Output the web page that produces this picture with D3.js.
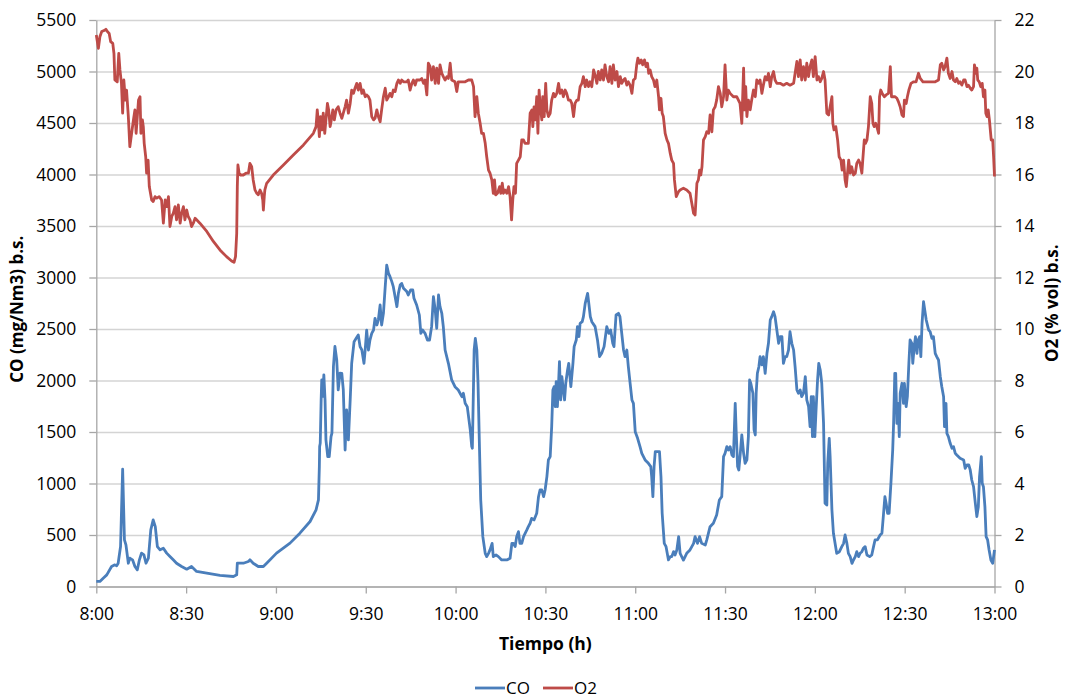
<!DOCTYPE html>
<html>
<head>
<meta charset="utf-8">
<script src="https://cdn.jsdelivr.net/npm/d3@7"></script>
<style>
body{margin:0;background:#fff}
text{font-family:"Open Sans",sans-serif;fill:#000}
</style>
</head>
<body>
<svg id="chart" width="1065" height="700"></svg>
<script>
// minutes after 8:00, CO in mg/Nm3
var coData = [[0,49],[1.2,49],[2.3,81],[3.5,113],[5.1,194],[6.2,210],[6.8,200],[7.3,226],[8.1,388],[8.8,1139],[9.4,453],[9.9,404],[10.7,226],[11.2,275],[12.1,259],[12.9,194],[13.7,162],[14.4,259],[15.1,324],[15.9,307],[16.6,226],[17.4,275],[18.2,550],[19.0,647],[19.7,582],[20.4,388],[21.3,356],[22.4,372],[23.5,324],[24.6,291],[25.7,259],[26.8,226],[28.5,194],[30.2,168],[31.8,194],[33.5,146],[36.9,129],[41.3,107],[45.8,97],[46.9,113],[47.1,226],[49.1,226],[50.8,243],[51.3,259],[52.4,226],[54.1,194],[55.8,194],[56.9,226],[60.2,324],[64.7,421],[68.0,518],[71.4,631],[73.4,744],[74.2,841],[74.5,1165],[74.6,1359],[74.8,1392],[75.1,1812],[75.3,2006],[75.6,1845],[76.0,2055],[76.4,1812],[76.7,1424],[77.3,1262],[77.8,1262],[78.4,1456],[78.7,1489],[79.2,2136],[79.7,2330],[80.3,2200],[80.8,1909],[81.4,2071],
[82.0,2070],[82.5,1908],[83.1,1325],[83.6,1714],[84.2,1423],[84.8,1811],[85.3,2167],[86.1,2377],[86.8,2409],[87.5,2442],[88.1,2329],[88.7,2296],[89.4,2167],[89.8,2296],[90.3,2490],[90.9,2296],[91.4,2393],[92.0,2458],[92.6,2490],[93.1,2604],[93.7,2539],[94.2,2587],[94.8,2733],[95.3,2539],[95.9,2652],[96.5,2911],[97.0,3121],[97.6,3040],[98.1,3008],[98.7,2960],[99.2,2911],[99.8,2814],[100.4,2717],[100.9,2846],[101.5,2927],[102.0,2943],[102.6,2895],[103.7,2863],[104.2,2830],[105.0,2879],[105.7,2879],[106.1,2798],[107.0,2733],[107.9,2636],[108.4,2458],[109.0,2490],[109.8,2458],[110.6,2393],[111.3,2393],[112.0,2523],[112.6,2814],[113.2,2684],[113.7,2507],[114.3,2830],[114.8,2717],[115.4,2652],[115.9,2523],[116.5,2296],[117.6,2167],[118.7,2005],[119.8,1940],[120.9,1908],[122.1,1843],[122.6,1876],[123.2,1778],[123.9,1746],[124.9,1520],[125.4,1358],[125.6,1342],[126.2,2296],[126.6,2409],[127.1,2296],[127.5,1973],[128.0,1325],[128.4,840],[129.1,484],[129.9,322],[130.4,290],[131.0,322],[131.5,355],[132.2,419],[132.6,290],[133.5,306],[134.3,290],[135.4,258],[137.1,258],[138.2,274],[138.8,419],[139.3,419],[139.9,387],[140.4,484],[141.0,533],[141.5,419],[142.1,419],[142.7,484],[143.8,549],[144.3,581],[144.9,614],[145.4,662],[146.2,646],[147.1,711],[147.7,872],[148.2,937],[148.8,937],[149.4,872],[149.9,937],[150.5,1067],[151.0,1229],[151.6,1261],[152.1,1552],[152.5,1908],[152.9,1940],[153.3,1746],[153.6,1989],[154.0,1746],[154.4,1973],[154.7,2183],[155.1,1811],[155.5,2037],[156.0,1908],[156.4,1811],[156.8,1973],[157.4,2102],[157.8,2167],[158.5,1940],[159.2,2167],[159.6,2329],[160.3,2393],[160.7,2523],[161.2,2426],[161.6,2555],[162.3,2571],[162.7,2620],[163.3,2749],[164.1,2846],[164.5,2749],[165.0,2620],[165.5,2571],[166.6,2523],[167.4,2393],[168.1,2232],[168.8,2264],[169.6,2329],[170.5,2523],[171.2,2458],[171.8,2490],[172.5,2361],[172.9,2329],[173.6,2636],[174.4,2652],[174.9,2620],[175.5,2458],[176.1,2296],[176.6,2232],[177.2,2296],[177.7,2134],[178.3,1973],[178.9,1811],[179.4,1778],[180.0,1503],[180.8,1439],[181.6,1358],[182.2,1293],[183.3,1229],[184.4,1196],[185.2,1164],[185.5,1067],[185.9,872],[186.3,1164],[186.7,1309],[187.4,1309],[188.1,1309],[188.6,1067],[189.0,711],[189.7,419],[190.3,387],[191.1,258],[191.7,290],[192.2,290],[192.8,338],[193.3,306],[193.9,355],[194.5,484],[195.0,322],
[196.1,257],[197.2,322],[198.3,355],[199.5,419],[200.0,484],[200.8,419],[201.5,484],[202.2,419],[203.4,403],[203.9,452],[205.0,581],[206.1,614],[207.2,694],[208.1,840],[208.9,872],[209.5,1261],[210.0,1293],[210.6,1358],[211.1,1325],[211.7,1358],[212.3,1277],[212.8,1261],[213.4,1778],[213.7,1520],[214.2,1164],[214.6,1131],[215.0,1261],[215.6,1471],[216.2,1293],[216.7,1196],[217.3,1229],[217.8,1455],[218.2,2005],[218.6,1973],[219.3,1876],[219.7,1520],[220.1,1471],[220.4,1876],[220.8,2070],[221.3,2134],[221.7,2232],[222.3,2151],[222.8,2232],[223.4,2070],[224.0,2264],[224.5,2361],[225.1,2587],[225.6,2620],[226.2,2668],[226.7,2620],[227.3,2490],[227.9,2361],[228.4,2426],[229.0,2426],[229.5,2167],[230.1,2232],[230.6,2232],[231.2,2296],[231.7,2474],[232.3,2361],[232.9,2296],[233.4,2134],[234.0,1908],[234.5,1876],[235.1,1908],[235.6,1843],[236.2,1876],[236.8,2037],[237.3,1811],[237.9,1746],[238.4,1552],[238.8,1843],[239.2,1455],[239.5,1843],[240.0,1455],[240.4,1714],[240.9,2005],[241.3,2167],[241.8,2102],[242.3,1973],[242.9,1584],[243.4,808],[244.0,791],[244.3,1196],[244.8,1439],[245.1,1261],[245.7,743],[246.2,517],[247.3,322],[248.2,338],[249.0,387],[249.6,419],[250.1,500],[250.7,419],[251.2,322],[251.8,290],[252.4,225],[252.9,257],[253.5,290],[254.0,338],[254.6,290],[255.1,322],[255.7,338],[256.2,371],[256.8,387],[257.4,306],[258.3,290],[259.0,306],[259.6,387],[260.1,452],[260.9,452],[261.8,500],[262.4,517],[262.9,694],[263.4,872],[263.8,808],[264.3,711],[264.8,711],[265.4,1002],[266.0,1325],[266.3,1584],[266.7,2070],[267.0,2070],[267.4,1584],[267.8,1778],[268.2,1455],[268.5,1876],[269.1,1973],[269.6,1778],[269.9,1973],[270.5,1746],[270.9,1843],[271.4,2167],[271.8,2393],[272.4,2361],[272.7,2167],[273.2,2329],[273.6,2426],[274.1,2264],[274.5,2393],[275.0,2426],[275.4,2232],[275.8,2555],[276.3,2765],[276.7,2684],[277.2,2587],[278.0,2490],[278.5,2474],[279.1,2409],[279.6,2426],[280.2,2264],[280.7,2232],[281.3,2199],[281.9,2037],[282.4,1940],[283.0,1843],[283.3,1552],[283.8,1778],[284.1,1487],[284.6,1455],[285.2,1390],[285.8,1342],[286.3,1358],[286.9,1293],[287.4,1277],[288.5,1245],[289.7,1229],[290.2,1148],[290.8,1180],[291.4,1180],[291.9,1131],[292.4,1034],[293.0,969],[293.6,808],[294.1,678],[294.6,775],[295.0,1067],[295.6,1261],[295.9,1002],[296.3,969],[296.8,775],[297.2,484],[297.7,452],[298.2,355],[298.8,257],[299.4,225],[300.0,355]];

// minutes after 8:00, O2 in % vol
var o2Data = [[0,21.42],[0.7,20.90],[1.2,21.35],[1.8,21.55],[2.6,21.59],[3.2,21.64],[3.7,21.55],[4.3,21.48],[4.8,21.16],[5.5,21.09],[5.9,20.70],[6.2,19.67],[7.0,19.60],[7.5,20.70],[7.9,20.06],[8.4,19.54],[8.8,18.38],[9.2,19.67],[9.7,18.89],[10.1,19.28],[10.7,18.25],[11.2,17.08],[11.8,17.60],[12.4,18.12],[12.9,18.51],[13.3,17.60],[13.7,18.25],[14.1,18.89],[14.6,19.02],[14.9,17.60],[15.4,18.12],[15.7,17.86],[16.0,17.21],[16.5,16.69],[16.8,16.05],[17.3,16.56],[17.7,15.53],[18.5,15.01],[19.0,14.95],[19.6,15.14],[20.2,15.08],[21.0,15.14],[21.8,15.01],[22.4,14.11],[23.0,15.01],[23.5,14.75],[24.1,15.14],[24.6,13.98],[25.2,14.37],[25.7,14.49],[26.3,14.75],[26.8,14.24],[27.4,14.82],[28.0,14.11],[28.5,14.49],[29.1,14.75],[29.6,14.24],[30.2,14.62],[30.7,14.37],[31.3,14.24],[31.8,13.98],[32.4,14.11],[33.0,14.30],[33.5,14.24],[34.6,14.11],[36.9,13.79],[39.1,13.40],[41.3,13.07],[43.5,12.81],[45.2,12.64],[46.0,12.59],[46.5,12.81],[46.9,13.72],[47.1,15.53],[47.3,16.37],[47.7,16.05],[48.2,15.98],[49.1,15.98],[50.0,16.05],[50.8,16.05],[51.3,16.43],[51.9,16.30],[52.4,15.79],[53.0,15.40],[53.6,15.27],[54.1,15.21],[54.7,15.40],[55.2,15.27],[55.6,15.01],[55.8,14.62],[56.1,15.14],[56.3,15.40],[56.9,15.66],[59.1,15.98],[62.5,16.37],[65.8,16.76],[69.2,17.15],[72.5,17.60],[73.4,17.86],[73.8,18.51],[74.2,17.99],[74.5,17.47],[74.9,18.25],[75.4,17.73],[75.8,18.38],[76.3,17.60],[76.7,18.12],[77.2,18.76],[77.6,18.51],[78.1,17.86],[78.5,18.12],[79.0,18.51],[79.5,18.12],[80.1,18.51],[80.8,18.63],[81.4,18.38],
[82.0,18.18],[82.5,18.38],[83.1,18.63],[83.6,18.89],[84.2,18.38],[84.8,18.76],[85.3,19.28],[85.9,19.15],[86.4,19.35],[87.0,19.54],[87.5,19.28],[88.1,19.54],[88.7,19.15],[89.2,19.28],[89.8,19.02],[90.3,19.09],[90.9,19.02],[91.4,18.89],[92.0,18.25],[92.6,18.12],[93.1,18.18],[93.7,18.51],[94.2,18.25],[94.8,18.05],[95.3,18.51],[95.9,19.02],[96.5,19.35],[97.0,18.89],[97.6,19.02],[98.1,19.15],[98.7,19.02],[99.2,19.28],[99.8,19.22],[100.4,19.54],[100.9,19.67],[101.5,19.54],[102.0,19.67],[102.6,19.60],[103.7,19.60],[104.2,19.67],[104.8,19.28],[105.4,19.54],[105.9,19.67],[106.5,19.47],[107.0,19.67],[108.1,19.67],[108.7,19.73],[109.3,19.54],[109.8,19.67],[110.4,19.09],[110.9,20.32],[111.5,20.19],[112.0,19.67],[112.6,20.19],[113.2,19.54],[113.7,20.13],[114.3,19.54],[114.8,20.26],[115.4,19.93],[115.9,19.80],[116.5,19.67],[117.1,19.80],[117.6,19.73],[118.2,20.32],[118.7,19.67],[119.8,19.60],[120.4,19.22],[120.9,19.60],[122.1,19.60],[123.2,19.60],[124.3,19.67],[125.4,19.67],[126.0,19.41],[126.5,18.25],[127.1,19.02],[127.6,18.38],[128.2,17.99],[128.7,17.60],[129.3,17.60],[129.9,17.21],[130.4,16.69],[131.0,16.17],[131.5,16.05],[132.1,15.79],[132.6,15.27],[133.0,15.79],[133.4,15.21],[134.0,15.27],[134.7,15.53],[135.1,15.27],[135.6,15.66],[136.0,15.27],[136.5,15.40],[137.1,15.27],[137.7,15.53],[138.2,15.14],[138.7,14.24],[139.1,15.01],[139.5,15.53],[140.0,15.27],[140.4,16.43],[141.0,16.56],[141.6,16.69],[142.1,17.34],[142.7,17.34],[143.2,17.21],[143.8,17.21],[144.3,17.21],[144.9,18.38],[145.5,18.51],[145.8,17.86],[146.2,18.63],[146.6,18.12],[147.1,19.02],[147.5,17.60],[147.9,19.28],[148.2,18.76],[148.8,18.12],[149.1,19.02],[149.6,18.25],[150.1,19.54],[150.5,18.51],[151.0,18.25],[151.6,18.38],[152.1,18.89],[152.7,19.15],[153.2,19.02],[153.8,19.15],[154.4,19.54],[154.9,19.15],[155.5,19.28],[156.0,19.02],[156.6,19.28],[157.1,19.15],[157.7,18.89],[158.3,18.89],[158.8,18.76],[159.4,18.25],[159.9,18.76],[160.5,18.89],[161.0,18.89],[161.6,19.41],[162.2,19.54],[162.7,19.80],[163.3,19.41],[163.8,19.67],[164.4,19.41],[164.9,19.60],[165.5,19.41],[166.1,20.06],[166.6,19.86],[167.2,19.54],[167.7,20.00],[168.3,19.67],[168.8,20.06],[169.4,19.67],[169.9,20.26],[170.5,19.80],[171.1,19.60],[171.6,20.19],[172.2,19.54],[172.7,20.26],[173.3,19.67],[173.9,20.00],[174.4,19.41],[175.0,19.80],[175.5,19.54],[176.1,19.67],[176.6,19.73],[177.2,19.47],[177.7,19.60],[178.3,19.47],[178.9,19.15],[179.4,19.67],[180.0,19.73],[180.5,20.26],[180.9,20.52],[181.4,20.32],[182.0,20.45],[182.5,20.26],[183.1,20.45],[183.6,20.19],[184.1,20.32],[184.5,19.93],[185.0,20.06],[185.5,19.80],[186.1,19.67],[186.6,19.41],[187.2,19.67],[187.8,19.02],[188.1,18.51],[188.6,18.96],[189.0,18.38],[189.4,18.25],[190.0,17.60],[190.6,17.34],[191.1,17.21],[191.7,16.82],[192.2,16.56],[192.8,16.43],[193.1,15.79],[193.7,15.14],[194.5,15.34],
[195.0,15.40],[196.1,15.47],[197.2,15.40],[198.3,15.27],[198.9,14.88],[199.5,14.49],[200.0,14.43],[200.6,15.66],[201.1,15.79],[201.5,16.17],[201.9,15.98],[202.3,16.30],[202.8,17.34],[203.4,17.47],[203.9,17.66],[204.5,17.60],[205.0,18.31],[205.6,17.66],[206.1,18.51],[206.7,18.63],[207.2,18.89],[207.8,19.41],[208.4,19.15],[208.9,18.63],[209.5,19.02],[210.0,20.26],[210.6,18.89],[211.1,19.28],[211.7,19.15],[212.8,19.02],[213.9,19.02],[215.0,18.76],[215.6,17.99],[216.2,20.13],[216.5,18.51],[216.9,19.41],[217.3,18.25],[217.8,18.89],[218.4,18.51],[218.9,18.89],[219.5,19.28],[220.1,19.02],[220.6,19.67],[221.2,19.54],[221.7,19.67],[222.3,19.15],[222.8,19.47],[223.4,19.80],[224.0,19.67],[224.5,19.93],[225.1,19.41],[225.6,19.80],[226.2,20.00],[226.7,19.67],[227.3,19.54],[228.4,19.54],[229.5,19.47],[230.6,19.54],[231.7,19.47],[232.9,19.54],[233.4,19.93],[234.0,20.39],[234.5,19.80],[235.1,20.45],[235.6,19.67],[236.2,20.19],[236.8,19.67],[237.3,20.32],[237.9,19.80],[238.4,20.19],[239.0,20.45],[239.5,19.80],[240.1,20.58],[240.7,19.67],[241.2,19.80],[241.8,19.60],[242.3,19.73],[242.9,20.00],[243.4,19.67],[244.0,18.38],[244.6,18.31],[245.1,18.63],[245.7,19.02],[246.0,17.99],[246.4,17.73],[247.0,17.86],[247.6,17.34],[248.1,16.69],[248.7,16.56],[249.1,16.17],[249.6,16.56],[250.1,15.79],[250.5,15.53],[250.9,16.05],[251.3,16.56],[251.8,16.05],[252.3,16.30],[252.9,15.98],[253.5,16.05],[254.0,16.43],[254.6,16.56],[255.1,16.43],[255.7,16.05],[256.0,16.56],[256.5,17.34],[256.9,17.21],[257.4,17.34],[257.9,17.86],[258.5,19.02],[259.0,18.76],[259.4,17.99],[259.8,17.86],[260.3,17.99],[260.7,17.86],[261.3,17.60],[261.6,19.02],[262.0,19.28],[262.5,19.15],[263.2,19.02],[263.8,19.09],[264.6,19.15],[265.2,20.19],[265.6,19.02],[266.3,19.02],[266.8,19.02],[267.4,18.96],[267.9,18.83],[268.5,18.63],[269.1,18.31],[269.6,18.25],[269.9,18.89],[270.5,18.76],[270.9,19.02],[271.4,19.28],[272.1,19.54],[273.0,19.60],[273.8,19.60],[274.6,19.93],[275.2,19.73],[276.1,19.60],[276.8,19.60],[278.0,19.60],[279.1,19.60],[280.2,19.60],[281.3,19.67],[281.9,20.26],[282.4,20.32],[283.0,20.06],[283.5,20.19],[284.1,20.52],[284.6,19.93],[285.2,19.73],[285.8,20.00],[286.3,19.67],[286.9,19.60],[287.4,19.73],[288.0,19.54],[288.5,19.60],[289.1,19.47],[289.7,19.67],[290.2,19.67],[290.8,19.41],[291.3,19.47],[291.9,19.35],[292.4,19.28],[293.0,19.41],[293.3,20.26],[293.8,19.93],[294.1,20.13],[294.4,19.67],[294.9,19.60],[295.4,19.41],[295.9,19.54],[296.3,19.02],[296.8,19.28],[297.1,18.38],[297.5,18.25],[297.9,18.51],[298.3,18.12],[298.9,17.34],[299.4,17.34],[299.7,16.69],[300.0,15.92]];

var xTickMinutes = [0, 30, 60, 90, 120, 150, 180, 210, 240, 270, 300];
var coTicks = [0, 500, 1000, 1500, 2000, 2500, 3000, 3500, 4000, 4500, 5000, 5500];
var o2Ticks = [0, 2, 4, 6, 8, 10, 12, 14, 16, 18, 20, 22];
var seriesNames = ["CO", "O2"];
var seriesColors = ["#4a7ebb", "#be4b48"];

var svg = d3.select("#chart");
var margin = {top: 20, right: 70.5, bottom: 113.5, left: 96.3};
var W = 1065, H = 700;
var iw = W - margin.left - margin.right, ih = H - margin.top - margin.bottom;

var x = d3.scaleLinear().domain([0, 300]).range([0, iw]);
var yCO = d3.scaleLinear().domain([0, 5500]).range([ih, 0]);
var yO2 = d3.scaleLinear().domain([0, 22]).range([ih, 0]);

var g = svg.append("g").attr("transform", "translate(" + margin.left + "," + margin.top + ")");

// horizontal gridlines
g.selectAll(".grid").data(coTicks).enter().append("line")
    .attr("x1", 0).attr("x2", iw)
    .attr("y1", function(d){ return yCO(d) + 0.5; })
    .attr("y2", function(d){ return yCO(d) + 0.5; })
    .attr("stroke", "#d4d4d4").attr("stroke-width", 1.3);

function fmtTime(m){
    var h = 8 + Math.floor(m / 60), mm = m % 60;
    return h + ":" + (mm < 10 ? "0" + mm : mm);
}

function styleAxis(sel){
    sel.selectAll("path").attr("stroke", "#a6a6a6").attr("stroke-width", 1.3);
    sel.selectAll("line").attr("stroke", "#a6a6a6").attr("stroke-width", 1.3);
    sel.selectAll("text").style("font-size", "17.5px").attr("fill", "#262626");
}

g.append("g").attr("transform", "translate(0," + ih + ")")
    .call(d3.axisBottom(x).tickValues(xTickMinutes).tickFormat(fmtTime).tickSizeInner(7).tickSizeOuter(0).tickPadding(14))
    .call(styleAxis);

g.append("g")
    .call(d3.axisLeft(yCO).tickValues(coTicks).tickFormat(d3.format("d")).tickSizeInner(7).tickSizeOuter(0).tickPadding(13))
    .call(styleAxis);

g.append("g").attr("transform", "translate(" + iw + ",0)")
    .call(d3.axisRight(yO2).tickValues(o2Ticks).tickFormat(d3.format("d")).tickSizeInner(7).tickSizeOuter(0).tickPadding(13))
    .call(styleAxis);

// series
var lineCO = d3.line().x(function(d){ return x(d[0]); }).y(function(d){ return yCO(d[1]); });
var lineO2 = d3.line().x(function(d){ return x(d[0]); }).y(function(d){ return yO2(d[1]); });

g.append("path").datum(coData).attr("d", lineCO)
    .attr("fill", "none").attr("stroke", seriesColors[0]).attr("stroke-width", 2.8).attr("stroke-linejoin", "round");
g.append("path").datum(o2Data).attr("d", lineO2)
    .attr("fill", "none").attr("stroke", seriesColors[1]).attr("stroke-width", 2.8).attr("stroke-linejoin", "round");

// axis titles
svg.append("text").attr("transform", "translate(23," + (margin.top + ih / 2 + 6) + ") rotate(-90)")
    .attr("text-anchor", "middle").style("font-size", "17px").style("font-weight", "bold")
    .text("CO (mg/Nm3) b.s.");
svg.append("text").attr("transform", "translate(1058," + (margin.top + ih / 2) + ") rotate(-90)")
    .attr("text-anchor", "middle").style("font-size", "17px").style("font-weight", "bold")
    .text("O2 (% vol) b.s.");
svg.append("text").attr("x", margin.left + iw / 2).attr("y", 650)
    .attr("text-anchor", "middle").style("font-size", "17.5px").style("font-weight", "bold")
    .text("Tiempo (h)");

// legend
var legendX = [475, 543];
var lg = svg.append("g");
seriesNames.forEach(function(name, i){
    lg.append("line").attr("x1", legendX[i]).attr("x2", legendX[i] + 30)
        .attr("y1", 688).attr("y2", 688)
        .attr("stroke", seriesColors[i]).attr("stroke-width", 2.8);
    lg.append("text").attr("x", legendX[i] + 31).attr("y", 694)
        .style("font-size", "17px").attr("fill", "#262626").text(name);
});
</script>
</body>
</html>
